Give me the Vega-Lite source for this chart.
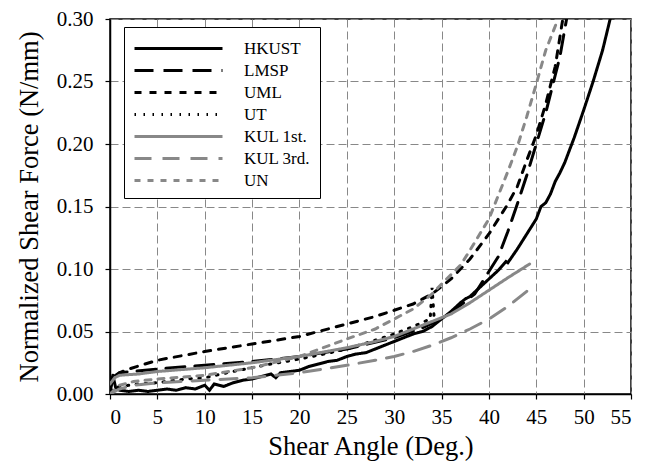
{
  "$schema": "https://vega.github.io/schema/vega-lite/v6.json",
  "width": 521,
  "height": 375,
  "autosize": {"type": "none"},
  "padding": {"left": 110, "top": 19, "right": 27, "bottom": 72},
  "background": "white",
  "config": {
    "font": "Liberation Serif",
    "view": {"stroke": "black", "strokeWidth": 1.5},
    "axis": {
      "labelFont": "Liberation Serif", "labelFontSize": 21, "labelColor": "black",
      "titleFont": "Liberation Serif", "titleFontSize": 26.5, "titleFontWeight": "normal", "titleColor": "black",
      "domainColor": "black", "domainWidth": 1.5, "tickColor": "black", "tickSize": 5, "tickWidth": 1.2,
      "gridColor": "#888888", "gridDash": [8, 4], "gridWidth": 1, "labelPadding": 7
    },
    "legend": {"labelFont": "Liberation Serif"}
  },
  "data": {"values": [
    {"s":"HKUST","x":0,"y":0.0},{"s":"HKUST","x":0.3,"y":0.015},{"s":"HKUST","x":0.6,"y":0.005},{"s":"HKUST","x":1,"y":0.003},{"s":"HKUST","x":2,"y":0.002},{"s":"HKUST","x":3,"y":0.003},{"s":"HKUST","x":4,"y":0.002},{"s":"HKUST","x":5,"y":0.003},{"s":"HKUST","x":6,"y":0.004},{"s":"HKUST","x":7,"y":0.003},{"s":"HKUST","x":8,"y":0.005},{"s":"HKUST","x":9,"y":0.004},{"s":"HKUST","x":10,"y":0.007},{"s":"HKUST","x":10.5,"y":0.003},{"s":"HKUST","x":11,"y":0.008},{"s":"HKUST","x":12,"y":0.006},{"s":"HKUST","x":13,"y":0.009},{"s":"HKUST","x":14,"y":0.011},{"s":"HKUST","x":15,"y":0.012},{"s":"HKUST","x":16,"y":0.014},{"s":"HKUST","x":17,"y":0.016},{"s":"HKUST","x":17.5,"y":0.013},{"s":"HKUST","x":18,"y":0.017},{"s":"HKUST","x":19,"y":0.018},{"s":"HKUST","x":20,"y":0.019},{"s":"HKUST","x":21,"y":0.022},{"s":"HKUST","x":22,"y":0.024},{"s":"HKUST","x":23,"y":0.026},{"s":"HKUST","x":24,"y":0.027},{"s":"HKUST","x":25,"y":0.030},{"s":"HKUST","x":26,"y":0.032},{"s":"HKUST","x":27,"y":0.033},{"s":"HKUST","x":28,"y":0.036},{"s":"HKUST","x":29,"y":0.039},{"s":"HKUST","x":30,"y":0.042},{"s":"HKUST","x":31,"y":0.045},{"s":"HKUST","x":32,"y":0.048},{"s":"HKUST","x":33,"y":0.050},{"s":"HKUST","x":34,"y":0.054},{"s":"HKUST","x":35,"y":0.060},{"s":"HKUST","x":36,"y":0.066},{"s":"HKUST","x":37,"y":0.073},{"s":"HKUST","x":37.5,"y":0.076},{"s":"HKUST","x":38,"y":0.078},{"s":"HKUST","x":39,"y":0.085},{"s":"HKUST","x":40,"y":0.092},{"s":"HKUST","x":41,"y":0.099},{"s":"HKUST","x":41.8,"y":0.106},{"s":"HKUST","x":42,"y":0.105},{"s":"HKUST","x":43,"y":0.116},{"s":"HKUST","x":44,"y":0.128},{"s":"HKUST","x":45,"y":0.140},{"s":"HKUST","x":45.5,"y":0.150},{"s":"HKUST","x":46,"y":0.153},{"s":"HKUST","x":46.5,"y":0.160},{"s":"HKUST","x":47,"y":0.170},{"s":"HKUST","x":47.5,"y":0.177},{"s":"HKUST","x":48,"y":0.185},{"s":"HKUST","x":49,"y":0.205},{"s":"HKUST","x":50,"y":0.227},{"s":"HKUST","x":51,"y":0.250},{"s":"HKUST","x":52,"y":0.275},{"s":"HKUST","x":52.8,"y":0.30},

    {"s":"LMSP","x":0,"y":0.012},{"s":"LMSP","x":1,"y":0.017},{"s":"LMSP","x":5,"y":0.020},{"s":"LMSP","x":10,"y":0.023},{"s":"LMSP","x":15,"y":0.026},{"s":"LMSP","x":20,"y":0.030},{"s":"LMSP","x":25,"y":0.036},{"s":"LMSP","x":30,"y":0.045},{"s":"LMSP","x":33,"y":0.053},{"s":"LMSP","x":35,"y":0.060},{"s":"LMSP","x":37,"y":0.071},{"s":"LMSP","x":38.5,"y":0.080},{"s":"LMSP","x":40,"y":0.098},{"s":"LMSP","x":41,"y":0.110},{"s":"LMSP","x":42,"y":0.130},{"s":"LMSP","x":43,"y":0.152},{"s":"LMSP","x":44,"y":0.175},{"s":"LMSP","x":45,"y":0.200},{"s":"LMSP","x":46,"y":0.225},{"s":"LMSP","x":47,"y":0.255},{"s":"LMSP","x":47.5,"y":0.270},{"s":"LMSP","x":48.2,"y":0.30},

    {"s":"UML","x":0,"y":0.005},{"s":"UML","x":0.5,"y":0.013},{"s":"UML","x":1,"y":0.017},{"s":"UML","x":2,"y":0.020},{"s":"UML","x":5,"y":0.027},{"s":"UML","x":10,"y":0.034},{"s":"UML","x":15,"y":0.040},{"s":"UML","x":20,"y":0.046},{"s":"UML","x":25,"y":0.056},{"s":"UML","x":28,"y":0.062},{"s":"UML","x":30,"y":0.067},{"s":"UML","x":32,"y":0.072},{"s":"UML","x":34,"y":0.080},{"s":"UML","x":36,"y":0.092},{"s":"UML","x":38,"y":0.108},{"s":"UML","x":40,"y":0.128},{"s":"UML","x":42,"y":0.152},{"s":"UML","x":43,"y":0.166},{"s":"UML","x":44,"y":0.187},{"s":"UML","x":45,"y":0.207},{"s":"UML","x":46,"y":0.232},{"s":"UML","x":47,"y":0.262},{"s":"UML","x":47.8,"y":0.30},

    {"s":"UT","x":0,"y":0.003},{"s":"UT","x":1,"y":0.006},{"s":"UT","x":3,"y":0.008},{"s":"UT","x":5,"y":0.009},{"s":"UT","x":8,"y":0.012},{"s":"UT","x":10,"y":0.013},{"s":"UT","x":13,"y":0.018},{"s":"UT","x":15,"y":0.021},{"s":"UT","x":17,"y":0.024},{"s":"UT","x":20,"y":0.028},{"s":"UT","x":22,"y":0.031},{"s":"UT","x":25,"y":0.036},{"s":"UT","x":28,"y":0.043},{"s":"UT","x":30,"y":0.048},{"s":"UT","x":32,"y":0.054},{"s":"UT","x":33.8,"y":0.060},{"s":"UT","x":34,"y":0.085},{"s":"UT","x":34.2,"y":0.063},{"s":"UT","x":34.6,"y":0.062},

    {"s":"KUL 1st.","x":0,"y":0.008},{"s":"KUL 1st.","x":0.5,"y":0.013},{"s":"KUL 1st.","x":1,"y":0.015},{"s":"KUL 1st.","x":3,"y":0.016},{"s":"KUL 1st.","x":5,"y":0.018},{"s":"KUL 1st.","x":10,"y":0.021},{"s":"KUL 1st.","x":15,"y":0.025},{"s":"KUL 1st.","x":20,"y":0.030},{"s":"KUL 1st.","x":25,"y":0.037},{"s":"KUL 1st.","x":28,"y":0.042},{"s":"KUL 1st.","x":30,"y":0.046},{"s":"KUL 1st.","x":32,"y":0.052},{"s":"KUL 1st.","x":34,"y":0.058},{"s":"KUL 1st.","x":36,"y":0.064},{"s":"KUL 1st.","x":38,"y":0.073},{"s":"KUL 1st.","x":40,"y":0.083},{"s":"KUL 1st.","x":42,"y":0.093},{"s":"KUL 1st.","x":44.3,"y":0.104},

    {"s":"KUL 3rd.","x":0,"y":0.0},{"s":"KUL 3rd.","x":1,"y":0.004},{"s":"KUL 3rd.","x":2.5,"y":0.007},{"s":"KUL 3rd.","x":5,"y":0.009},{"s":"KUL 3rd.","x":10,"y":0.011},{"s":"KUL 3rd.","x":15,"y":0.013},{"s":"KUL 3rd.","x":20,"y":0.017},{"s":"KUL 3rd.","x":25,"y":0.023},{"s":"KUL 3rd.","x":28,"y":0.027},{"s":"KUL 3rd.","x":30,"y":0.030},{"s":"KUL 3rd.","x":32,"y":0.034},{"s":"KUL 3rd.","x":34,"y":0.039},{"s":"KUL 3rd.","x":36,"y":0.045},{"s":"KUL 3rd.","x":38,"y":0.052},{"s":"KUL 3rd.","x":40,"y":0.060},{"s":"KUL 3rd.","x":42,"y":0.070},{"s":"KUL 3rd.","x":44.3,"y":0.084},

    {"s":"UN","x":0,"y":0.0},{"s":"UN","x":1,"y":0.007},{"s":"UN","x":2.5,"y":0.010},{"s":"UN","x":5,"y":0.012},{"s":"UN","x":10,"y":0.015},{"s":"UN","x":15,"y":0.021},{"s":"UN","x":20,"y":0.030},{"s":"UN","x":25,"y":0.044},{"s":"UN","x":28,"y":0.052},{"s":"UN","x":30,"y":0.060},{"s":"UN","x":32,"y":0.068},{"s":"UN","x":34,"y":0.080},{"s":"UN","x":35,"y":0.088},{"s":"UN","x":37,"y":0.103},{"s":"UN","x":38,"y":0.115},{"s":"UN","x":40,"y":0.140},{"s":"UN","x":42,"y":0.178},{"s":"UN","x":43,"y":0.198},{"s":"UN","x":44,"y":0.222},{"s":"UN","x":45,"y":0.248},{"s":"UN","x":46,"y":0.275},{"s":"UN","x":47.3,"y":0.30}
  ]},
  "mark": {"type": "line", "strokeWidth": 3, "strokeCap": "round", "clip": true},
  "encoding": {
    "x": {"field": "x", "type": "quantitative", "scale": {"domain": [0, 55], "nice": false},
      "axis": {"title": "Shear Angle (Deg.)", "values": [0,5,10,15,20,25,30,35,40,45,50,55], "grid": true, "titlePadding": 6}},
    "y": {"field": "y", "type": "quantitative", "scale": {"domain": [0, 0.30], "nice": false},
      "axis": {"title": "Normalized Shear Force (N/mm)", "values": [0,0.05,0.1,0.15,0.2,0.25,0.3], "format": ".2f", "grid": true, "labelPadding": 12, "titlePadding": 13}},
    "color": {"field": "s", "type": "nominal",
      "scale": {"domain": ["HKUST","LMSP","UML","UT","KUL 1st.","KUL 3rd.","UN"],
        "range": ["#000000","#000000","#000000","#000000","#888888","#888888","#888888"]},
      "legend": {"title": null, "orient": "none", "legendX": 14, "legendY": 8, "fillColor": "white", "strokeColor": "black",
        "padding": 9, "symbolType": "M-1,0H7", "symbolSize": 484, "symbolStrokeWidth": 3,
        "labelFontSize": 17, "labelColor": "black", "labelOffset": 86, "rowPadding": 1}},
    "strokeDash": {"field": "s", "type": "nominal",
      "scale": {"domain": ["HKUST","LMSP","UML","UT","KUL 1st.","KUL 3rd.","UN"],
        "range": [[1,0],[19,10],[7,8],[1.5,7.5],[1,0],[17,11],[6,7]]},
      "legend": {"title": null, "orient": "none", "legendX": 14, "legendY": 8, "fillColor": "white", "strokeColor": "black",
        "padding": 9, "symbolType": "M-1,0H7", "symbolSize": 484, "symbolStrokeWidth": 3,
        "labelFontSize": 17, "labelColor": "black", "labelOffset": 86, "rowPadding": 1}}
  }
}
